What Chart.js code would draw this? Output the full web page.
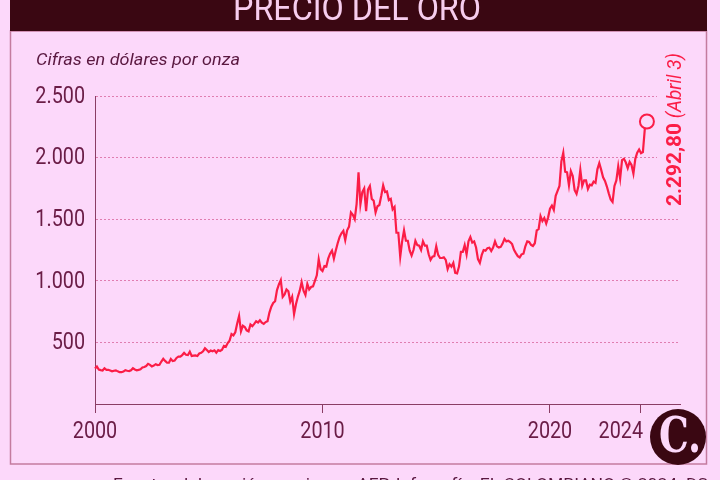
<!DOCTYPE html>
<html>
<head>
<meta charset="utf-8">
<script src="https://cdn.jsdelivr.net/npm/chart.js@4/dist/chart.umd.min.js"></script>
<style>
  html, body { margin: 0; padding: 0; background: #fcd8fa; }
  #wrap { width: 720px; height: 480px; position: relative; }
  canvas { display: block; }
</style>
</head>
<body>
<div id="wrap"><canvas id="c" width="720" height="480"></canvas></div>
<script>
// ---- Data (USD per troy ounce), one row of monthly readings per year ----
const years = [2000,2001,2002,2003,2004,2005,2006,2007,2008,2009,2010,2011,2012,
               2013,2014,2015,2016,2017,2018,2019,2020,2021,2022,2023,2024];
const p2000 = [289,305,280,275,272,290,277,278,272,265,270,273];
const p2001 = [265,258,258,263,275,270,267,274,290,280,274,277];
const p2002 = [282,296,300,308,326,318,305,312,323,316,318,345];
const p2003 = [367,350,335,335,365,348,352,374,385,385,397,415];
const p2004 = [400,398,425,390,393,395,390,410,415,428,452,438];
const p2005 = [422,434,428,436,417,437,430,441,472,465,495,515];
const p2006 = [568,557,582,654,715,590,635,625,598,590,645,632];
const p2007 = [650,672,662,680,660,650,665,672,742,790,820,834];
const p2008 = [925,970,1005,870,890,930,915,830,870,730,810,870];
const p2009 = [920,990,920,885,975,930,950,955,1000,1045,1175,1095];
const p2010 = [1080,1120,1115,1180,1220,1245,1180,1245,1305,1355,1385,1405];
const p2011 = [1330,1410,1440,1555,1535,1500,1625,1880,1620,1720,1750,1565];
const p2012 = [1740,1770,1665,1650,1555,1605,1615,1690,1775,1720,1725,1655];
const p2013 = [1665,1580,1600,1390,1390,1195,1320,1410,1325,1325,1245,1205];
const p2014 = [1250,1325,1290,1285,1250,1320,1285,1285,1215,1170,1195,1200];
const p2015 = [1280,1210,1185,1185,1190,1170,1095,1135,1115,1145,1065,1060];
const p2016 = [1115,1235,1235,1290,1215,1320,1355,1310,1320,1270,1175,1145];
const p2017 = [1210,1250,1245,1265,1268,1242,1270,1320,1280,1270,1275,1302];
const p2018 = [1340,1320,1325,1315,1298,1252,1225,1200,1190,1215,1220,1280];
const p2019 = [1320,1315,1292,1283,1305,1410,1420,1525,1485,1510,1465,1515];
const p2020 = [1585,1610,1575,1690,1730,1770,1970,2040,1885,1880,1775,1890];
const p2021 = [1850,1735,1705,1770,1900,1770,1815,1815,1745,1780,1775,1805];
const p2022 = [1795,1905,1955,1900,1840,1810,1765,1710,1660,1640,1770,1815];
const p2023 = [1930,1830,1980,1990,1960,1915,1965,1940,1870,1990,2040,2065];
const p2024 = [2035,2045,2230];
const lastDate = 2024.26;      // April 3, 2024
const lastPrice = 2292.80;
const yTicks = [0,500,1000,1500,2000,2500];
const xTicks = [2000,2010,2020,2024];
const title = "PRECIO DEL ORO";
const subtitle = "Cifras en dólares por onza";
const noteValue = "2.292,80";
const noteDate = " (Abril 3)";
const source = "Fuente: elaboración propia con AFP. Infografía: EL COLOMBIANO © 2024. DS";

const rows = [p2000,p2001,p2002,p2003,p2004,p2005,p2006,p2007,p2008,p2009,p2010,p2011,p2012,
              p2013,p2014,p2015,p2016,p2017,p2018,p2019,p2020,p2021,p2022,p2023,p2024];
const points = [];
rows.forEach((row, i) => row.forEach((v, m) => points.push({x: years[i] + m / 12, y: v})));
points.push({x: lastDate, y: lastPrice});

const BG = '#fcd8fa';
const RED = '#fb1d47';
const MAROON = '#6a1c46';
const FONT = 'Roboto, "Noto Sans", sans-serif';

const fmt = v => String(v).replace(/\B(?=(\d{3})+(?!\d))/g, '.');

// draw text horizontally condensed by factor k
function narrowText(ctx, text, x, y, k, align) {
  const w = ctx.measureText(text).width * k;
  let x0 = x;
  if (align === 'center') x0 = x - w / 2;
  else if (align === 'right') x0 = x - w;
  ctx.save();
  ctx.textAlign = 'left';
  ctx.translate(x0, y);
  ctx.scale(k, 1);
  ctx.fillText(text, 0, 0);
  ctx.restore();
  return w;
}

const decor = {
  id: 'decor',
  beforeDraw(chart) {
    const ctx = chart.ctx;
    ctx.save();
    ctx.fillStyle = BG;
    ctx.fillRect(0, 0, 720, 480);
    // frame
    ctx.strokeStyle = '#c47b9f';
    ctx.lineWidth = 1.5;
    ctx.strokeRect(10.5, 31, 696, 433);
    // title bar
    ctx.fillStyle = '#3a0712';
    ctx.fillRect(10, 0, 697, 31);
    ctx.fillStyle = '#f7cdee';
    ctx.font = '35px ' + FONT;
    ctx.textBaseline = 'alphabetic';
    let tw = ctx.measureText(title).width;
    narrowText(ctx, title, 357, 20, 248 / tw, 'center');
    // subtitle
    ctx.fillStyle = '#5a1840';
    ctx.font = 'italic 17px ' + FONT;
    ctx.textBaseline = 'middle';
    tw = ctx.measureText(subtitle).width;
    narrowText(ctx, subtitle, 36, 61, 204 / tw, 'left');
    // source
    ctx.font = '17px ' + FONT;
    ctx.textBaseline = 'alphabetic';
    tw = ctx.measureText(source).width;
    narrowText(ctx, source, 113, 490, 595 / tw, 'left');
    ctx.restore();
  },
  afterDraw(chart) {
    const ctx = chart.ctx;
    const xs = chart.scales.x, ys = chart.scales.y;
    ctx.save();
    // tick labels (condensed)
    ctx.fillStyle = MAROON;
    ctx.font = '23px ' + FONT;
    ctx.textBaseline = 'middle';
    yTicks.forEach(v => {
      if (v === 0) return;
      narrowText(ctx, fmt(v), 85, ys.getPixelForValue(v) + 1, 0.86, 'right');
    });
    xTicks.forEach((v, i) => {
      const px = xs.getPixelForValue(v);
      if (i === xTicks.length - 1) narrowText(ctx, String(v), px + 2, 432, 0.86, 'right');
      else narrowText(ctx, String(v), px, 432, 0.86, 'center');
    });
    // clear gridlines behind the note
    ctx.fillStyle = BG;
    ctx.fillRect(657, 80, 40, 100);
    // rotated note
    ctx.translate(681, 206);
    ctx.rotate(-Math.PI / 2);
    ctx.fillStyle = RED;
    ctx.textBaseline = 'alphabetic';
    ctx.font = 'bold 21px ' + FONT;
    let w = ctx.measureText(noteValue).width;
    const w1 = narrowText(ctx, noteValue, 0, 0, 83 / w, 'left');
    ctx.font = 'italic 20px ' + FONT;
    w = ctx.measureText(noteDate).width;
    narrowText(ctx, noteDate, w1, 0, 70 / w, 'left');
    ctx.restore();
    // logo
    ctx.save();
    ctx.fillStyle = '#3a0712';
    ctx.beginPath();
    ctx.arc(678, 437, 28, 0, Math.PI * 2);
    ctx.fill();
    ctx.fillStyle = BG;
    ctx.font = 'bold 48px "DejaVu Serif", "Liberation Serif", serif';
    ctx.textBaseline = 'middle';
    narrowText(ctx, 'C.', 680, 440, 0.78, 'center');
    ctx.restore();
  }
};

const lastIndex = points.length - 1;

new Chart(document.getElementById('c'), {
  type: 'line',
  data: {
    datasets: [{
      data: points,
      borderColor: RED,
      borderWidth: 2.2,
      tension: 0,
      clip: false,
      pointRadius: ctx => ctx.dataIndex === lastIndex ? 7 : 0,
      pointBorderWidth: 2,
      pointBorderColor: RED,
      pointBackgroundColor: BG,
      pointHoverRadius: 0
    }]
  },
  options: {
    responsive: false,
    animation: false,
    events: [],
    layout: { padding: { top: 96, right: 40, left: 0, bottom: 0 } },
    plugins: { legend: { display: false }, tooltip: { enabled: false } },
    scales: {
      x: {
        type: 'linear',
        min: 2000,
        max: 2000 + 585 / 22.75,
        afterBuildTicks: s => { s.ticks = xTicks.map(v => ({ value: v })); },
        afterFit: s => { s.height = 76; },
        grid: { drawOnChartArea: false, drawTicks: true, tickLength: 9, color: '#8a3d64', lineWidth: 1 },
        border: { color: '#8a3d64', width: 1 },
        ticks: { display: false }
      },
      y: {
        min: 0,
        max: 2500,
        afterBuildTicks: s => { s.ticks = yTicks.map(v => ({ value: v })); },
        afterFit: s => { s.width = 95; },
        grid: {
          drawTicks: false,
          color: ctx => ctx.tick && ctx.tick.value === 0 ? 'rgba(0,0,0,0)' : 'rgba(222,120,172,0.95)',
          lineWidth: 1
        },
        border: { color: '#8a3d64', width: 1, dash: [2, 2] },
        ticks: { display: false }
      }
    }
  },
  plugins: [decor]
});
</script>
</body>
</html>
